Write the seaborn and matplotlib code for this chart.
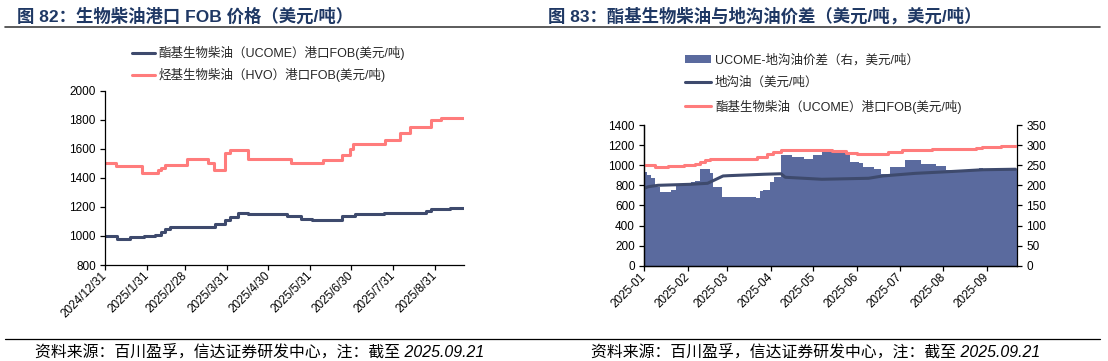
import pandas as pd
import matplotlib.pyplot as plt
from matplotlib.lines import Line2D
from matplotlib.patches import Patch
import seaborn as sns

sns.set_theme(style='ticks')
plt.rcParams['font.family'] = ['Liberation Sans', 'Noto Sans CJK SC']
plt.rcParams['axes.unicode_minus'] = False

NAVY = '#3E4A6D'
RED = '#FF7C7C'
AREA = '#5A6A9E'
TITLE_C = '#1F3864'

# ---------------- 图82 数据 ----------------
ucome_dates = ['2024-12-31', '2025-01-09', '2025-01-18', '2025-01-24', '2025-01-29', '2025-02-06',
               '2025-02-10', '2025-02-13', '2025-02-17', '2025-03-22', '2025-03-29', '2025-04-02',
               '2025-04-08', '2025-04-15', '2025-05-14', '2025-05-24', '2025-06-01', '2025-06-23',
               '2025-07-03', '2025-07-24', '2025-08-24', '2025-08-28', '2025-09-11', '2025-09-21']
ucome_vals = [1000, 980, 990, 995, 1000, 1010, 1030, 1050, 1060, 1080, 1110, 1130,
              1155, 1150, 1140, 1120, 1110, 1135, 1152, 1160, 1175, 1185, 1190, 1190]

hvo_dates = ['2024-12-31', '2025-01-08', '2025-01-27', '2025-02-08', '2025-02-10', '2025-02-13',
             '2025-03-01', '2025-03-17', '2025-03-21', '2025-03-29', '2025-04-02', '2025-04-08',
             '2025-04-15', '2025-05-17', '2025-06-09', '2025-06-23', '2025-06-29', '2025-07-01',
             '2025-07-25', '2025-08-05', '2025-08-12', '2025-08-28', '2025-09-04', '2025-09-21']
hvo_vals = [1500, 1480, 1430, 1455, 1470, 1490, 1528, 1500, 1455, 1570, 1590, 1595,
            1528, 1505, 1525, 1555, 1600, 1635, 1660, 1710, 1750, 1800, 1815, 1815]

left_ticks = ['2024-12-31', '2025-01-31', '2025-02-28', '2025-03-31', '2025-04-30',
              '2025-05-31', '2025-06-30', '2025-07-31', '2025-08-31']
left_labels = ['2024/12/31', '2025/1/31', '2025/2/28', '2025/3/31', '2025/4/30',
               '2025/5/31', '2025/6/30', '2025/7/31', '2025/8/31']

# ---------------- 图83 数据 ----------------
uco_dates = ['2025-01-01', '2025-01-04', '2025-01-11', '2025-02-03', '2025-02-15', '2025-02-20',
             '2025-02-26', '2025-03-02', '2025-03-27', '2025-04-08', '2025-04-11', '2025-05-07',
             '2025-06-09', '2025-06-19', '2025-07-12', '2025-08-05', '2025-08-29', '2025-09-21']
uco_vals = [770, 786, 800, 810, 820, 853, 893, 896, 910, 915, 880, 860,
            870, 893, 919, 936, 955, 960]

spread_dates = ['2025-01-01', '2025-01-03', '2025-01-06', '2025-01-09', '2025-01-12', '2025-01-20',
                '2025-01-24', '2025-02-03', '2025-02-06', '2025-02-10', '2025-02-17', '2025-02-19',
                '2025-02-22', '2025-02-25', '2025-03-21', '2025-03-24', '2025-03-26', '2025-03-31',
                '2025-04-03', '2025-04-08', '2025-04-16', '2025-04-24', '2025-05-01', '2025-05-07',
                '2025-05-23', '2025-05-27', '2025-06-02', '2025-06-05', '2025-06-13', '2025-06-18',
                '2025-06-24', '2025-07-05', '2025-07-16', '2025-07-27', '2025-08-03', '2025-08-15',
                '2025-08-26', '2025-08-29', '2025-09-12', '2025-09-22']
spread_vals = [234, 226, 217, 197, 184, 188, 200, 209, 211, 240, 230, 197,
               195, 172, 168, 186, 188, 209, 221, 275, 270, 266, 275, 285,
               281, 259, 256, 246, 240, 227, 245, 263, 252, 248, 238, 236,
               244, 241, 240, 240]

right_ticks = ['2025-01-01', '2025-02-01', '2025-03-01', '2025-04-01', '2025-05-01',
               '2025-06-01', '2025-07-01', '2025-08-01', '2025-09-01']
right_labels = ['2025-01', '2025-02', '2025-03', '2025-04', '2025-05',
                '2025-06', '2025-07', '2025-08', '2025-09']

ucome = pd.DataFrame({'date': pd.to_datetime(ucome_dates), 'val': ucome_vals})
hvo = pd.DataFrame({'date': pd.to_datetime(hvo_dates), 'val': hvo_vals})
uco = pd.DataFrame({'date': pd.to_datetime(uco_dates), 'val': uco_vals})
spread = pd.DataFrame({'date': pd.to_datetime(spread_dates), 'val': spread_vals})

fig = plt.figure(figsize=(11.08, 3.61), dpi=100)
fig.patch.set_facecolor('white')


def style_axis(ax):
    ax.tick_params(axis='both', labelsize=8.5, length=3.6, width=0.9, color='black',
                   pad=3, labelcolor='black', direction='out')
    for s in ax.spines.values():
        s.set_color('black')
        s.set_linewidth(0.9)


# ---------------- 左图 ----------------
ax1 = fig.add_axes([0.0948, 0.2659, 0.324, 0.4829])
sns.lineplot(data=ucome, x='date', y='val', ax=ax1, color=NAVY, lw=2.2,
             drawstyle='steps-post', legend=False)
sns.lineplot(data=hvo, x='date', y='val', ax=ax1, color=RED, lw=2.2,
             drawstyle='steps-post', legend=False)
ax1.set_xlim(pd.Timestamp('2024-12-31'), pd.Timestamp('2025-09-21'))
ax1.set_ylim(800, 2000)
ax1.set_yticks(range(800, 2001, 200))
ax1.set_xticks(pd.to_datetime(left_ticks))
ax1.set_xticklabels(left_labels, rotation=45, ha='right', va='center', rotation_mode='anchor')
ax1.set_xlabel('')
ax1.set_ylabel('')
ax1.spines['top'].set_visible(False)
ax1.spines['right'].set_visible(False)
style_axis(ax1)

# ---------------- 右图 ----------------
ax2 = fig.add_axes([0.5812, 0.264, 0.3366, 0.3897])
ax3 = ax2.twinx()
ax3.fill_between(spread['date'], spread['val'], step='post', color=AREA, lw=0)
ax3.set_ylim(0, 350)
ax3.set_yticks(range(0, 351, 50))
ax2.set_zorder(ax3.get_zorder() + 1)
ax2.patch.set_visible(False)

sns.lineplot(data=uco, x='date', y='val', ax=ax2, color=NAVY, lw=2.2, legend=False)
sns.lineplot(data=ucome, x='date', y='val', ax=ax2, color=RED, lw=2.2,
             drawstyle='steps-post', legend=False)
ax2.set_xlim(pd.Timestamp('2025-01-01'), pd.Timestamp('2025-09-22'))
ax2.set_ylim(0, 1400)
ax2.set_yticks(range(0, 1401, 200))
ax2.set_xticks(pd.to_datetime(right_ticks))
ax2.set_xticklabels(right_labels, rotation=45, ha='right', va='center', rotation_mode='anchor')
ax2.set_xlabel('')
ax2.set_ylabel('')
ax3.set_ylabel('')
for a in (ax2, ax3):
    a.spines['top'].set_visible(False)
    style_axis(a)
ax2.spines['right'].set_visible(False)

# ---------------- 图例 ----------------
h_left = [Line2D([], [], color=NAVY, lw=2.2), Line2D([], [], color=RED, lw=2.2)]
fig.legend(h_left, ['酯基生物柴油（UCOME）港口FOB(美元/吨)', '烃基生物柴油（HVO）港口FOB(美元/吨)'],
           loc='upper left', bbox_to_anchor=(132 / 1108, 1 - 46 / 361), frameon=False,
           fontsize=9, handlelength=1.85, handletextpad=0.3, labelspacing=0.66,
           borderpad=0, borderaxespad=0)

h_right = [Patch(color=AREA, lw=0), Line2D([], [], color=NAVY, lw=2.2),
           Line2D([], [], color=RED, lw=2.2)]
fig.legend(h_right, ['UCOME-地沟油价差（右，美元/吨）', '地沟油（美元/吨）',
                     '酯基生物柴油（UCOME）港口FOB(美元/吨)'],
           loc='upper left', bbox_to_anchor=(685 / 1108, 1 - 54 / 361), frameon=False,
           fontsize=9, handlelength=2.1, handleheight=0.6, handletextpad=0.3,
           labelspacing=0.84, borderpad=0, borderaxespad=0)

# ---------------- 标题、分隔线、来源 ----------------
fig.text(17 / 1108, 1 - 16 / 361, '图 82：生物柴油港口 FOB 价格（美元/吨）', fontsize=12.5,
         fontweight='bold', color=TITLE_C, va='center', ha='left')
fig.text(548 / 1108, 1 - 16 / 361, '图 83：酯基生物柴油与地沟油价差（美元/吨，美元/吨）', fontsize=12.5,
         fontweight='bold', color=TITLE_C, va='center', ha='left')
fig.add_artist(Line2D([5 / 1108, 1100 / 1108], [1 - 27 / 361] * 2, color='#404040', lw=1.2))
fig.add_artist(Line2D([5 / 1108, 1100 / 1108], [1 - 338.5 / 361] * 2, color='black', lw=0.9))

src = '资料来源：百川盈孚，信达证券研发中心，注：截至 2025.09.21'
fig.text(35 / 1108, 1 - 352 / 361, src, fontsize=11.4, style='italic', color='black',
         va='center', ha='left')
fig.text(591 / 1108, 1 - 352 / 361, src, fontsize=11.4, style='italic', color='black',
         va='center', ha='left')

fig.savefig('out.png', dpi=100, facecolor='white')
